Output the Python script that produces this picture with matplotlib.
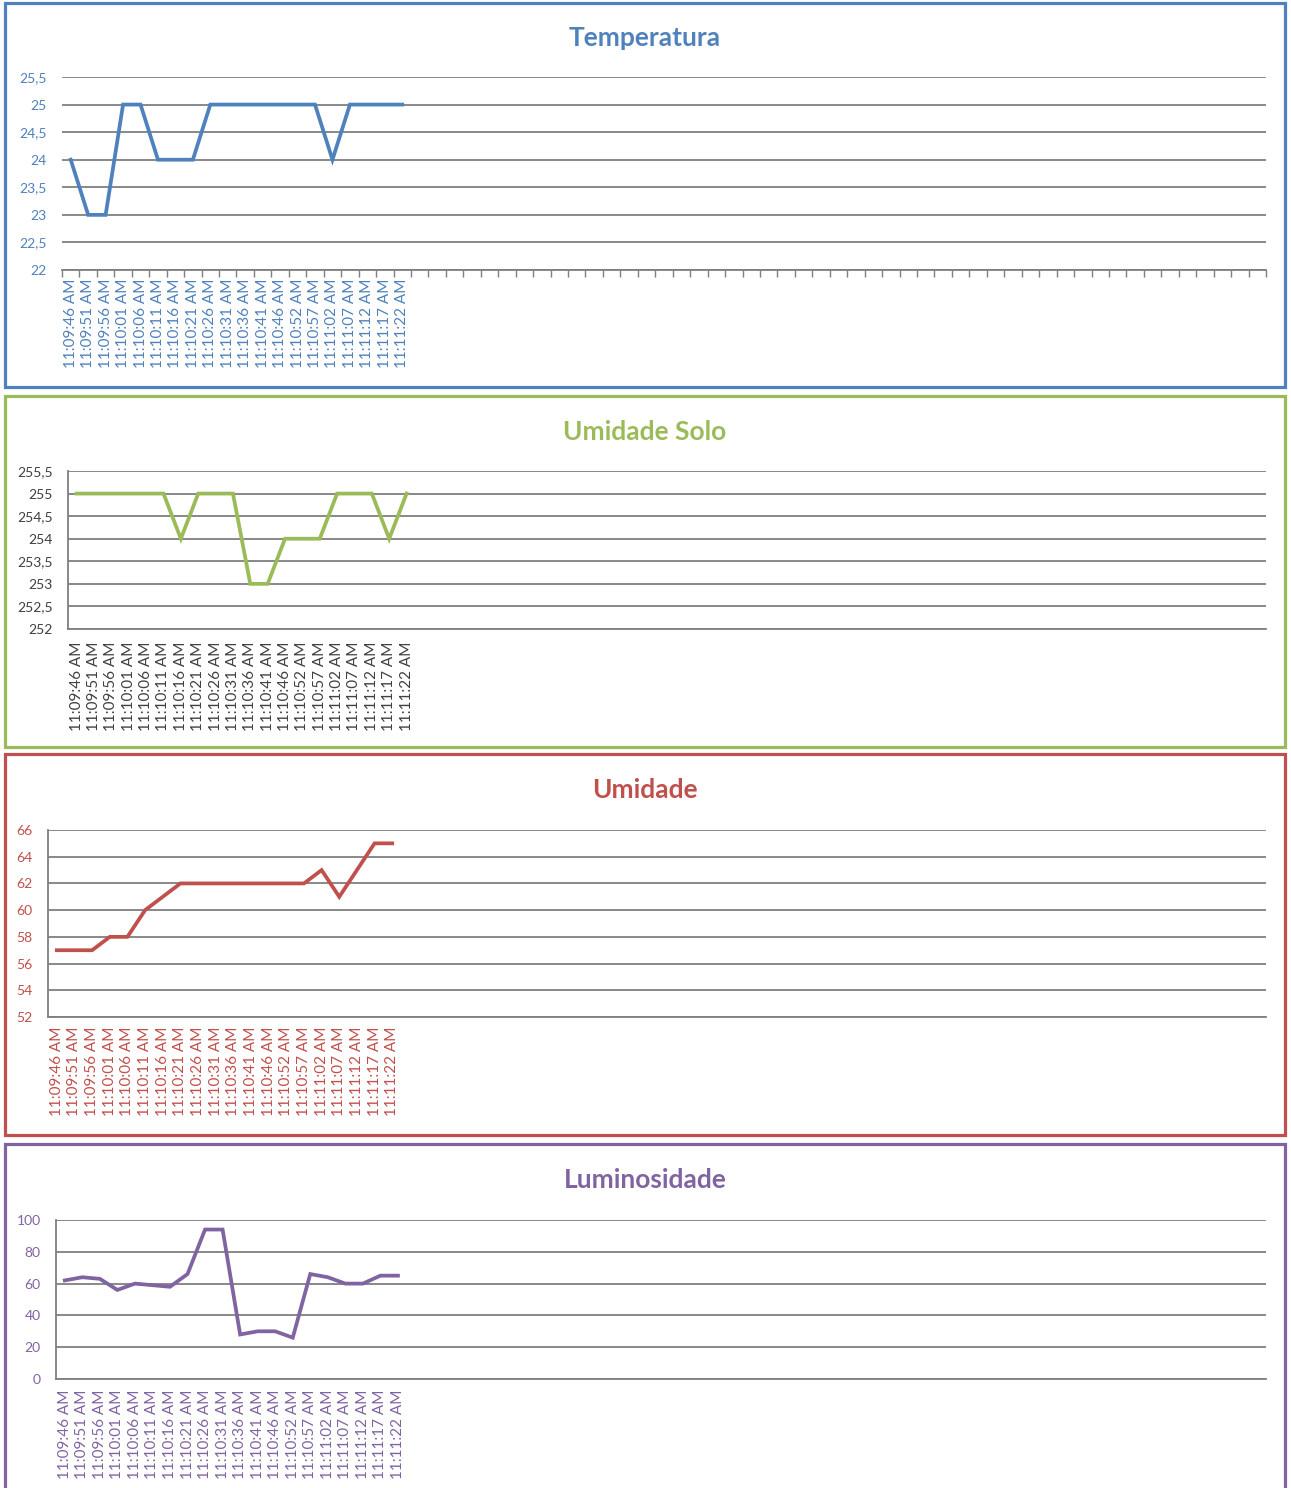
import matplotlib
matplotlib.use('Agg')
import matplotlib.pyplot as plt
from matplotlib.patches import Rectangle
from matplotlib.ticker import FuncFormatter

W, H = 1291, 1488

horarios = ['11:09:46 AM', '11:09:51 AM', '11:09:56 AM', '11:10:01 AM', '11:10:06 AM',
            '11:10:11 AM', '11:10:16 AM', '11:10:21 AM', '11:10:26 AM', '11:10:31 AM',
            '11:10:36 AM', '11:10:41 AM', '11:10:46 AM', '11:10:52 AM', '11:10:57 AM',
            '11:11:02 AM', '11:11:07 AM', '11:11:12 AM', '11:11:17 AM', '11:11:22 AM']

temperatura = [24, 23, 23, 25, 25, 24, 24, 24, 25, 25, 25, 25, 25, 25, 25, 24, 25, 25, 25, 25]
umidade_solo = [255, 255, 255, 255, 255, 255, 254, 255, 255, 255, 253, 253, 254, 254, 254,
                255, 255, 255, 254, 255]
umidade = [57, 57, 57, 58, 58, 60, 61, 62, 62, 62, 62, 62, 62, 62, 62, 63, 61, 63, 65, 65]
luminosidade = [62, 64, 63, 56, 60, 59, 58, 66, 94, 94, 28, 30, 30, 26, 66, 64, 60, 60, 65, 65]

# total de categorias no eixo (a maioria vazia, como na planilha)
n_cat = 69

plt.rcParams['font.family'] = ['Lato', 'DejaVu Sans']

fig = plt.figure(figsize=(W / 100, H / 100), dpi=100)


def box(x0, y0, x1, y1):
    return [x0 / W, 1 - y1 / H, (x1 - x0) / W, (y1 - y0) / H]


def decimal_virgula(v, pos):
    s = ('%g' % v)
    return s.replace('.', ',')


paineis = [
    dict(titulo='Temperatura', dados=temperatura, cor='#4F81BD', lbl='#4F81BD',
         borda=(5, 3, 1285, 387), area=(62, 77, 1266, 270), ty=38,
         ylim=(22, 25.5), passo=0.5, eixo_esq=False, ticks=True, ypad=11, xpad=6),
    dict(titulo='Umidade Solo', dados=umidade_solo, cor='#9BBB59', lbl='#404040',
         borda=(5, 396, 1285, 747), area=(68, 471, 1266, 629), ty=432,
         ylim=(252, 255.5), passo=0.5, eixo_esq=True, ticks=False, ypad=11, xpad=9),
    dict(titulo='Umidade', dados=umidade, cor='#C0504D', lbl='#C0504D',
         borda=(5, 754, 1285, 1135), area=(48, 830, 1266, 1017), ty=790,
         ylim=(52, 66), passo=2, eixo_esq=True, ticks=False, ypad=11, xpad=7),
    dict(titulo='Luminosidade', dados=luminosidade, cor='#8064A2', lbl='#8064A2',
         borda=(5, 1144, 1285, 1500), area=(56, 1220, 1266, 1379), ty=1180,
         ylim=(0, 100), passo=20, eixo_esq=True, ticks=False, ypad=11, xpad=8),
]

for p in paineis:
    bx0, by0, bx1, by1 = p['borda']
    fig.patches.append(Rectangle((bx0 / W, 1 - by1 / H), (bx1 - bx0) / W, (by1 - by0) / H,
                                 transform=fig.transFigure, fill=False,
                                 edgecolor=p['cor'], linewidth=2.3))
    fig.text(645 / W, 1 - p['ty'] / H, p['titulo'], color=p['cor'], fontsize=19,
             fontweight='bold', ha='center', va='center')

    ax = fig.add_axes(box(*p['area']))
    x = list(range(len(p['dados'])))
    ax.plot(x, p['dados'], color=p['cor'], linewidth=2.7, solid_joinstyle='miter', zorder=3)

    ax.set_xlim(-0.5, n_cat - 0.5)
    ax.set_ylim(*p['ylim'])
    y0, y1 = p['ylim']
    nt = int(round((y1 - y0) / p['passo']))
    ax.set_yticks([y0 + i * p['passo'] for i in range(nt + 1)])
    ax.yaxis.set_major_formatter(FuncFormatter(decimal_virgula))
    ax.grid(axis='y', color='#7f7f7f', linewidth=1.3)
    ax.set_axisbelow(True)

    ax.set_xticks(x)
    ax.set_xticklabels(horarios, rotation=90, fontsize=11, color=p['lbl'])
    ax.tick_params(axis='x', length=0, pad=p['xpad'])
    ax.tick_params(axis='y', length=0, pad=p['ypad'], labelsize=10, labelcolor=p['lbl'])
    if p['ticks']:
        ax.set_xticks([i - 0.5 for i in range(n_cat + 1)], minor=True)
        ax.tick_params(axis='x', which='minor', length=5, width=1, color='#7f7f7f',
                       direction='out')

    for s in ['top', 'right']:
        ax.spines[s].set_visible(False)
    ax.spines['bottom'].set_color('#7f7f7f')
    ax.spines['bottom'].set_linewidth(1.3)
    ax.spines['left'].set_visible(p['eixo_esq'])
    ax.spines['left'].set_color('#7f7f7f')
    ax.spines['left'].set_linewidth(1.3)

fig.savefig('out.png', dpi=100)
plt.close()
